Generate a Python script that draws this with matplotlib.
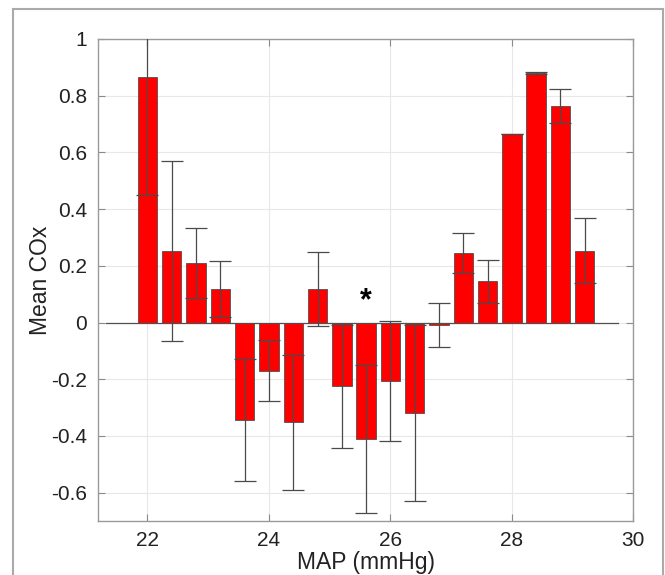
import matplotlib
matplotlib.use("Agg")
import matplotlib.pyplot as plt
from matplotlib.patches import Rectangle

plt.rcParams['font.family'] = ['Liberation Sans', 'DejaVu Sans']
plt.rcParams['axes.unicode_minus'] = False

# ---- data ----
map_values = [22.0, 22.4, 22.8, 23.2, 23.6, 24.0, 24.4, 24.8, 25.2, 25.6,
              26.0, 26.4, 26.8, 27.2, 27.6, 28.0, 28.4, 28.8, 29.2]
mean_cox = [0.865, 0.252, 0.211, 0.119, -0.343, -0.170, -0.352, 0.119, -0.225, -0.412,
            -0.205, -0.319, -0.008, 0.244, 0.145, 0.664, 0.881, 0.764, 0.253]
cox_err = [0.415, 0.316, 0.123, 0.099, 0.216, 0.107, 0.239, 0.130, 0.217, 0.261,
           0.212, 0.311, 0.078, 0.070, 0.075, 0.000, 0.003, 0.059, 0.114]
x_ticks = [22, 24, 26, 28, 30]
x_tick_labels = ['22', '24', '26', '28', '30']
y_ticks = [-0.6, -0.4, -0.2, 0, 0.2, 0.4, 0.6, 0.8, 1]
y_tick_labels = ['-0.6', '-0.4', '-0.2', '0', '0.2', '0.4', '0.6', '0.8', '1']
star_x = 25.6
star_y = 0.075

fig = plt.figure(figsize=(6.65, 5.75), dpi=100)
ax = fig.add_axes([0.1478, 0.0939, 0.8045, 0.8383])

ax.bar(map_values, mean_cox, width=0.32, color='#ff0000', edgecolor='#505050',
       linewidth=0.6, zorder=2)
ax.errorbar(map_values, mean_cox, yerr=cox_err, fmt='none', ecolor='#4a4a4a',
            elinewidth=0.9, capsize=8, capthick=0.9, zorder=3)
ax.axhline(0, xmin=0.015, xmax=0.972, color='#505050', linewidth=0.9, zorder=2.5)

ax.text(star_x, star_y, '*', ha='center', va='center', fontsize=22,
        fontweight='bold', color='black')

ax.set_xlim(21.19, 30)
ax.set_ylim(-0.7, 1)
ax.set_xticks(x_ticks)
ax.set_xticklabels(x_tick_labels)
ax.set_yticks(y_ticks)
ax.set_yticklabels(y_tick_labels)
ax.tick_params(direction='in', length=5, width=0.8, color='#8a8a8a',
               labelsize=15, labelcolor='#222222', top=True, right=True)
ax.tick_params(axis='x', pad=7)
ax.tick_params(axis='y', pad=8)
ax.grid(True, color='#e8e8e8', linewidth=0.8)
ax.set_axisbelow(True)
for s in ax.spines.values():
    s.set_color('#9a9a9a')
    s.set_linewidth(1.0)

ax.set_xlabel('MAP (mmHg)', fontsize=16.5, color='#222222', labelpad=1)
ax.set_ylabel('Mean COx', fontsize=16.5, color='#222222', labelpad=-0.5)

# outer frame
fig.patches.append(Rectangle((13 / 665, -0.02), 650 / 665, (575 - 9) / 575 + 0.02,
                             transform=fig.transFigure, fill=False,
                             edgecolor='#aaaaaa', linewidth=1.5))

fig.savefig('out.png', dpi=100)
